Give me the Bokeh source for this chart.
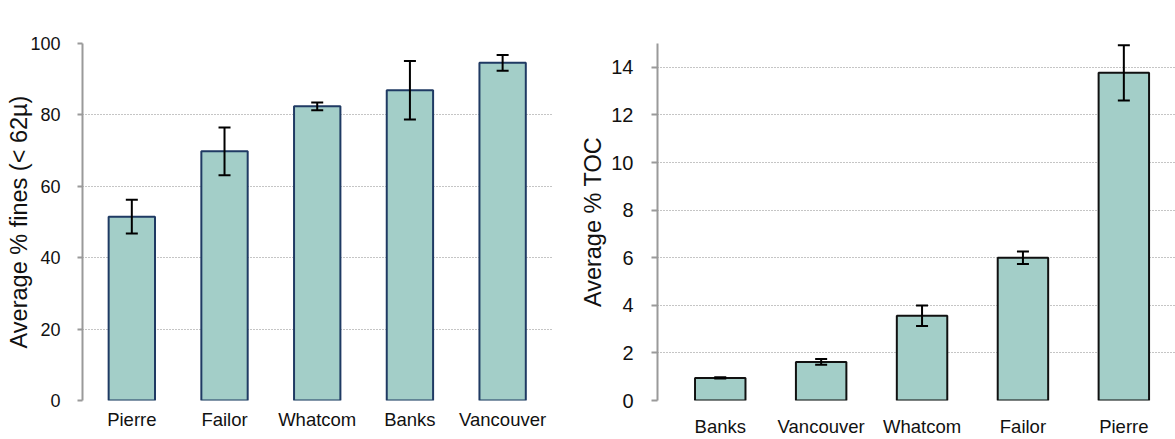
from bokeh.plotting import figure
from bokeh.layouts import row
from bokeh.models import ColumnDataSource, Whisker, TeeHead, FixedTicker, Range1d
from bokeh.embed import file_html
from bokeh.resources import INLINE

# ---- data ----
fines_sites = ["Pierre", "Failor", "Whatcom", "Banks", "Vancouver"]
fines_mean = [51.5, 69.8, 82.4, 86.9, 94.6]
fines_err = [4.7, 6.7, 1.1, 8.2, 2.2]

toc_sites = ["Banks", "Vancouver", "Whatcom", "Failor", "Pierre"]
toc_mean = [0.95, 1.62, 3.56, 6.0, 13.77]
toc_err = [0.03, 0.12, 0.43, 0.26, 1.16]

fines_ticks = [0, 20, 40, 60, 80, 100]
toc_ticks = [0, 2, 4, 6, 8, 10, 12, 14]

FONT = "Liberation Sans"
FILL = "#A3CEC8"


def make_chart(sites, means, errs, ticks, y_max, ylabel, edge, width,
               x_start, x_end, border_left, border_right, border_top, border_bottom,
               tick_font, cat_font, cat_standoff, tick_standoff, label_standoff, tick_out):
    xs = [i + 1 for i in range(len(sites))]
    src = ColumnDataSource(dict(
        x=xs, mean=means,
        upper=[m + e for m, e in zip(means, errs)],
        lower=[m - e for m, e in zip(means, errs)],
    ))
    p = figure(width=width, height=439, output_backend="svg", toolbar_location=None,
               x_range=Range1d(x_start, x_end), y_range=Range1d(0, y_max),
               min_border_left=border_left, min_border_right=border_right,
               min_border_top=border_top, min_border_bottom=border_bottom)
    p.outline_line_color = None
    p.background_fill_color = "white"
    p.border_fill_color = "white"

    p.vbar(x="x", top="mean", width=0.5, bottom=0, source=src,
           fill_color=FILL, line_color=edge, line_width=2)

    w = Whisker(source=src, base="x", upper="upper", lower="lower",
                line_color="black", line_width=2, level="overlay",
                upper_head=TeeHead(size=12, line_width=2, line_color="black"),
                lower_head=TeeHead(size=12, line_width=2, line_color="black"))
    p.add_layout(w)

    # x axis
    p.xaxis.ticker = FixedTicker(ticks=xs)
    p.xaxis.major_label_overrides = {x: s for x, s in zip(xs, sites)}
    p.xaxis.axis_line_color = None
    p.xaxis.major_tick_line_color = None
    p.xaxis.minor_tick_line_color = None
    p.xaxis.major_tick_out = 0
    p.xaxis.major_label_standoff = cat_standoff
    p.xaxis.major_label_text_font = FONT
    p.xaxis.major_label_text_font_size = cat_font
    p.xaxis.major_label_text_color = "#111111"
    p.xgrid.grid_line_color = None

    # y axis
    p.yaxis.ticker = FixedTicker(ticks=ticks)
    p.yaxis.axis_line_color = "#9A9A9A"
    p.yaxis.axis_line_width = 2
    p.yaxis.major_tick_line_color = "#9A9A9A"
    p.yaxis.major_tick_line_width = 2
    p.yaxis.major_tick_out = tick_out
    p.yaxis.major_tick_in = 0
    p.yaxis.minor_tick_line_color = None
    p.yaxis.major_label_standoff = tick_standoff
    p.yaxis.major_label_text_font = FONT
    p.yaxis.major_label_text_font_size = tick_font
    p.yaxis.major_label_text_color = "#111111"
    p.yaxis.axis_label = ylabel
    p.yaxis.axis_label_text_font = FONT
    p.yaxis.axis_label_text_font_style = "normal"
    p.yaxis.axis_label_text_font_size = "23.5px"
    p.yaxis.axis_label_text_color = "#111111"
    p.yaxis.axis_label_standoff = label_standoff

    p.ygrid.grid_line_color = "#8A8A8A"
    p.ygrid.grid_line_dash = "1 2"
    p.ygrid.grid_line_width = 1
    return p


p1 = make_chart(fines_sites, fines_mean, fines_err, fines_ticks, 100,
                "Average % fines (< 62\u00b5)", "#1F3A63", 560,
                0.468, 5.538, 82, 8, 43, 33,
                "18px", "18.5px", 8, 17, -5, 5)
p2 = make_chart(toc_sites, toc_mean, toc_err, toc_ticks, 15,
                "Average % TOC", "#111111", 615,
                0.378, 5.512, 97, 0, 12, 38,
                "20px", "18.5px", 15, 18, 2, 6)

layout = row(p1, p2)
open("out.html", "w").write(file_html(layout, INLINE))
